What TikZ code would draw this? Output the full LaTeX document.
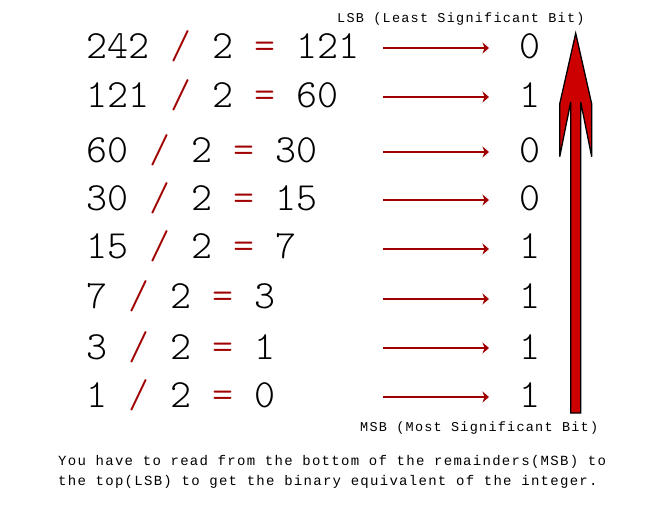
\documentclass[tikz,border=0pt]{standalone}
\usepackage{fontspec}
\newfontfamily\bigmono{lmmonolt10-regular.otf}
\newfontfamily\smallmono[LetterSpace=9.2]{Liberation Mono}
\usetikzlibrary{arrows.meta}
\definecolor{opred}{RGB}{160,0,0}
\definecolor{bigred}{RGB}{204,0,0}
\newcommand{\op}[1]{\textcolor{opred}{#1}}
\tikzset{
  eqtext/.style={anchor=base west, inner sep=0pt, font=\bigmono\fontsize{40}{40}\selectfont},
  remtext/.style={anchor=base, inner sep=0pt, font=\bigmono\fontsize{40}{40}\selectfont},
  smalltext/.style={anchor=base west, inner sep=0pt, font=\smallmono\fontsize{13.5}{16}\selectfont},
  notetext/.style={anchor=base west, inner sep=0pt, font=\smallmono\fontsize{14}{20}\selectfont},
  remarrow/.style={draw=opred, line width=1.8pt, -{Stealth[length=6.5pt,width=11pt,inset=2pt]}},
  bigarrow/.style={fill=bigred, draw=black, line width=1.3pt, line join=miter}
}
\begin{document}
\begin{tikzpicture}[x=1pt,y=-1pt]
\useasboundingbox (0,0) rectangle (656,507);
% equations
\node[eqtext] (eq1) at (86,58)  {242 \op{/} 2 \op{=} 121};
\node[eqtext] (eq2) at (86,107) {121 \op{/} 2 \op{=} 60};
\node[eqtext] (eq3) at (86,162) {60 \op{/} 2 \op{=} 30};
\node[eqtext] (eq4) at (86,210) {30 \op{/} 2 \op{=} 15};
\node[eqtext] (eq5) at (86,258) {15 \op{/} 2 \op{=} 7};
\node[eqtext] (eq6) at (86,308) {7 \op{/} 2 \op{=} 3};
\node[eqtext] (eq7) at (86,359) {3 \op{/} 2 \op{=} 1};
\node[eqtext] (eq8) at (86,407) {1 \op{/} 2 \op{=} 0};
% remainders
\node[remtext] (r1) at (530,58)  {0};
\node[remtext] (r2) at (530,107) {1};
\node[remtext] (r3) at (530,162) {0};
\node[remtext] (r4) at (530,210) {0};
\node[remtext] (r5) at (530,258) {1};
\node[remtext] (r6) at (530,308) {1};
\node[remtext] (r7) at (530,359) {1};
\node[remtext] (r8) at (530,407) {1};
% arrows
\foreach \i/\y in {1/48,2/97,3/152,4/200,5/249,6/299,7/348,8/397}{
  \coordinate (s\i) at (383,\y);
  \coordinate (e\i) at (489,\y);
  \draw[remarrow] (s\i) -- (e\i);
}
% big arrow
\draw[bigarrow] (575.7,33.3) -- (591.7,104) -- (591.7,156.7) -- (580.7,102)
  -- (580.7,413) -- (570.7,413) -- (570.7,102) -- (559.7,156.7) -- (559.7,104) -- cycle;
% labels
\node[smalltext] (lsb) at (337,22.3) {LSB (Least Significant Bit)};
\node[smalltext] (msb) at (360,431.7) {MSB (Most Significant Bit)};
\node[notetext] (n1) at (58,465) {You have to read from the bottom of the remainders(MSB) to};
\node[notetext] (n2) at (58,485) {the top(LSB) to get the binary equivalent of the integer.};
\end{tikzpicture}
\end{document}
